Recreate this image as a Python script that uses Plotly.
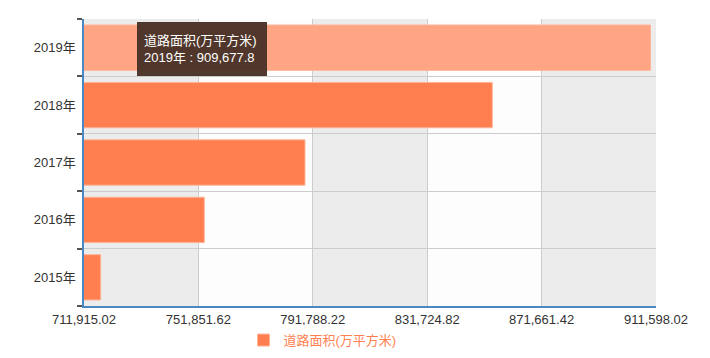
import plotly.graph_objects as go

categories = ["2015年", "2016年", "2017年", "2018年", "2019年"]
values = [717745.0, 753912.0, 789066.0, 854452.0, 909677.8]
series_name = "道路面积(万平方米)"
x_min = 711915.02
x_step = 39936.6
tick_vals = [x_min + i * x_step for i in range(6)]
tick_text = ["711,915.02", "751,851.62", "791,788.22", "831,724.82", "871,661.42", "911,598.02"]

base_color = "#FF7F50"
hi_color = "#FFA583"
colors = [base_color] * 4 + [hi_color]

FONT = "Liberation Sans, Arial, Noto Sans CJK SC, sans-serif"

fig = go.Figure()
fig.add_trace(go.Bar(
    y=categories, x=values, orientation="h", name=series_name,
    marker=dict(color=colors, line=dict(color="#FFB497", width=1)),
    showlegend=True,
))

# alternating vertical background bands
shapes = []
for i in range(5):
    shapes.append(dict(
        type="rect", xref="x", yref="paper", layer="below",
        x0=tick_vals[i], x1=tick_vals[i + 1], y0=0, y1=1,
        fillcolor="#ECECEC" if i % 2 == 0 else "#FDFDFD", line=dict(width=0),
    ))

fig.update_layout(
    width=710, height=358,
    margin=dict(l=84, r=54, t=19, b=52, autoexpand=False),
    paper_bgcolor="white", plot_bgcolor="white",
    font=dict(family=FONT, size=13, color="#333"),
    bargap=0.21,
    shapes=shapes,
    xaxis=dict(
        range=[tick_vals[0], tick_vals[-1]], tickvals=tick_vals, ticktext=tick_text,
        showgrid=True, gridcolor="#CCCCCC", gridwidth=1,
        showline=True, linecolor="#4A88C2", linewidth=2,
        ticks="", zeroline=False, tickfont=dict(size=13, color="#333"),
        automargin=False,
    ),
    yaxis=dict(
        categoryorder="array", categoryarray=categories,
        tickson="boundaries", ticks="outside", ticklen=5, tickcolor="#555", tickwidth=2,
        showgrid=True, gridcolor="#CCCCCC", gridwidth=1,
        showline=True, linecolor="#4A88C2", linewidth=2,
        tickfont=dict(size=13, color="#333"), ticksuffix=" ",
        automargin=False,
    ),
    legend=dict(
        orientation="h", x=0.417, xanchor="center", yref="container", y=0.05, yanchor="middle",
        font=dict(size=13, color=base_color, family=FONT), itemwidth=30,
    ),
    annotations=[dict(
        xref="paper", yref="paper", x=0.093, y=0.99, xanchor="left", yanchor="top",
        text="道路面积(万平方米)<br>2019年 : 909,677.8", showarrow=False, align="left",
        width=116, height=40, valign="middle",
        font=dict(size=13, color="white", family=FONT), bgcolor="rgba(72,48,38,0.95)",
        bordercolor="rgba(72,48,38,0.95)", borderpad=6,
    )],
)

fig.write_html("out.html", post_script="document.body.style.margin='0';",
               config={"displayModeBar": False})
